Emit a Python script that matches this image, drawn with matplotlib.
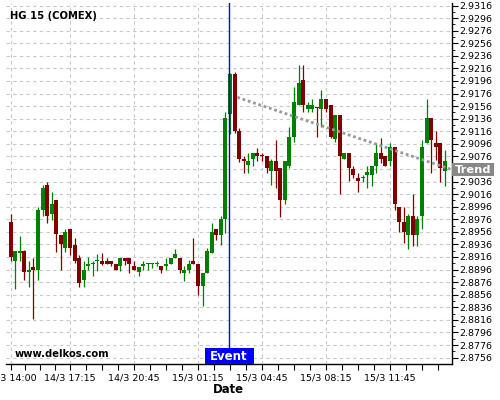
import matplotlib
matplotlib.use('Agg')
import matplotlib.pyplot as plt
from matplotlib.patches import Rectangle

# ---------------- data (15 min candles, HG COMEX) ----------------
opens = [2.8971, 2.8910, 2.8922, 2.8926, 2.8892, 2.8900, 2.8896, 2.8991, 2.9030, 2.8985,
         2.9007, 2.8951, 2.8931, 2.8960, 2.8935, 2.8915, 2.8879, 2.8901, 2.8905, 2.8910,
         2.8910, 2.8910, 2.8910, 2.8905, 2.8901, 2.8915, 2.8915, 2.8901, 2.8892, 2.8901,
         2.8905, 2.8905, 2.8905, 2.8901, 2.8901, 2.8905, 2.8915, 2.8915, 2.8891, 2.8895,
         2.8910, 2.8905, 2.8870, 2.8891, 2.8922, 2.8960, 2.8951, 2.8976, 2.9143, 2.9207,
         2.9117, 2.9072, 2.9062, 2.9072, 2.9081, 2.9079, 2.9077, 2.9052, 2.9068, 2.9057,
         2.9007, 2.9061, 2.9107, 2.9158, 2.9197, 2.9151, 2.9151, 2.9155, 2.9151, 2.9167,
         2.9158, 2.9104, 2.9142, 2.9072, 2.9082, 2.9056, 2.9042, 2.9042, 2.9046, 2.9046,
         2.9061, 2.9082, 2.9077, 2.9068, 2.9091, 2.8996, 2.8971, 2.8951, 2.8981, 2.8951,
         2.8981, 2.9098, 2.9137, 2.9098, 2.9098, 2.9052]
highs = [2.8985, 2.8926, 2.8950, 2.8927, 2.8910, 2.8915, 2.8995, 2.9030, 2.9036, 2.9020,
         2.9007, 2.8951, 2.8960, 2.8960, 2.8946, 2.8919, 2.8910, 2.8916, 2.8909, 2.8920,
         2.8922, 2.8915, 2.8910, 2.8905, 2.8915, 2.8915, 2.8915, 2.8909, 2.8900, 2.8909,
         2.8906, 2.8906, 2.8909, 2.8901, 2.8915, 2.8915, 2.8929, 2.8915, 2.8901, 2.8911,
         2.8946, 2.8905, 2.8891, 2.8930, 2.8970, 2.8960, 2.8982, 2.9146, 2.9208, 2.9211,
         2.9121, 2.9077, 2.9081, 2.9081, 2.9090, 2.9081, 2.9077, 2.9072, 2.9102, 2.9057,
         2.9068, 2.9122, 2.9187, 2.9222, 2.9222, 2.9163, 2.9168, 2.9155, 2.9181, 2.9167,
         2.9158, 2.9142, 2.9142, 2.9082, 2.9082, 2.9061, 2.9050, 2.9046, 2.9061, 2.9061,
         2.9097, 2.9106, 2.9077, 2.9097, 2.9091, 2.8996, 2.8995, 2.8985, 2.9016, 2.8981,
         2.9102, 2.9167, 2.9137, 2.9117, 2.9098, 2.9086]
lows = [2.8910, 2.8865, 2.8910, 2.8879, 2.8869, 2.8818, 2.8879, 2.8982, 2.8970, 2.8975,
        2.8924, 2.8895, 2.8924, 2.8919, 2.8906, 2.8869, 2.8869, 2.8895, 2.8885, 2.8894,
        2.8903, 2.8905, 2.8901, 2.8895, 2.8893, 2.8903, 2.8890, 2.8895, 2.8885, 2.8895,
        2.8895, 2.8898, 2.8901, 2.8890, 2.8895, 2.8905, 2.8915, 2.8890, 2.8878, 2.8890,
        2.8905, 2.8856, 2.8838, 2.8891, 2.8922, 2.8943, 2.8935, 2.8954, 2.9112, 2.9113,
        2.9067, 2.9050, 2.9050, 2.9060, 2.9068, 2.9068, 2.9050, 2.9030, 2.9025, 2.8980,
        2.9000, 2.9057, 2.9099, 2.9158, 2.9146, 2.9146, 2.9146, 2.9107, 2.9123, 2.9147,
        2.9105, 2.9099, 2.9016, 2.9072, 2.9037, 2.9041, 2.9020, 2.9036, 2.9025, 2.9029,
        2.9050, 2.9066, 2.9060, 2.9060, 2.8991, 2.8955, 2.8939, 2.8928, 2.8933, 2.8933,
        2.8960, 2.9098, 2.9050, 2.9071, 2.9036, 2.9029]
closes = [2.8916, 2.8926, 2.8926, 2.8892, 2.8895, 2.8896, 2.8991, 2.9026, 2.8982, 2.9000,
          2.8952, 2.8936, 2.8956, 2.8931, 2.8910, 2.8875, 2.8895, 2.8905, 2.8907, 2.8911,
          2.8905, 2.8905, 2.8905, 2.8896, 2.8915, 2.8910, 2.8905, 2.8896, 2.8900, 2.8905,
          2.8906, 2.8906, 2.8906, 2.8895, 2.8905, 2.8915, 2.8921, 2.8895, 2.8895, 2.8905,
          2.8905, 2.8870, 2.8891, 2.8926, 2.8956, 2.8951, 2.8976, 2.9137, 2.9207, 2.9117,
          2.9072, 2.9068, 2.9068, 2.9081, 2.9077, 2.9077, 2.9057, 2.9068, 2.9052, 2.9007,
          2.9068, 2.9107, 2.9163, 2.9193, 2.9158, 2.9158, 2.9158, 2.9153, 2.9167, 2.9151,
          2.9107, 2.9142, 2.9077, 2.9082, 2.9057, 2.9046, 2.9037, 2.9044, 2.9051, 2.9061,
          2.9082, 2.9072, 2.9061, 2.9091, 2.9000, 2.8971, 2.8956, 2.8981, 2.8951, 2.8976,
          2.9091, 2.9137, 2.9102, 2.9091, 2.9057, 2.9068]

tick_pos = [0, 13, 27, 41, 55, 69, 83]
tick_labels = ['14/3 14:00', '14/3 17:15', '14/3 20:45', '15/3 01:15',
               '15/3 04:45', '15/3 08:15', '15/3 11:45']
price_ticks = [2.8756 + 0.002 * k for k in range(29)]

event_idx = 47.8
trend_x = [49.6, 96.5]
trend_y = [2.9170, 2.9055]

title = 'HG 15 (COMEX)'
green = '#008000'
red = '#800000'

# ---------------- figure ----------------
fig = plt.figure(figsize=(5, 4), dpi=100)
ax = fig.add_axes([0.012, 0.09, 0.8914, 0.9025])

for i in range(len(opens)):
    o, h, l, c = opens[i], highs[i], lows[i], closes[i]
    col = green if c >= o else red
    ax.vlines(i, l, h, color=col, linewidth=0.9, zorder=3)
    body = max(abs(c - o), 0.00012)
    ax.bar(i, body, bottom=min(o, c), width=0.88, color=col, linewidth=0, zorder=4)

# trend line
ax.plot(trend_x, trend_y, color='#999999', linestyle=(0, (1, 1)), linewidth=2, zorder=5)

# event line
ax.axvline(event_idx, color='#0000ff', linewidth=1.0, zorder=6)

ax.set_xlim(-1, 96.5)
ax.set_ylim(2.87458, 2.9320)

ax.set_xticks(tick_pos)
ax.set_xticklabels(tick_labels)
minor = []
bounds = tick_pos + [tick_pos[-1] + 14]
for a, b in zip(bounds[:-1], bounds[1:]):
    step = (b - a) / 4.0
    minor += [a + step, a + 2 * step, a + 3 * step]
ax.set_xticks([m for m in minor if m < 96.5], minor=True)

ax.yaxis.tick_right()
ax.set_yticks(price_ticks)
ax.set_yticklabels(['%.4f' % p for p in price_ticks])
ax.set_yticks([p + 0.001 for p in price_ticks[:-1]], minor=True)

ax.tick_params(axis='x', which='both', length=4, width=0.8, labelsize=6.8, pad=2.5)
ax.tick_params(axis='y', which='major', length=4, width=0.8, labelsize=6.8, pad=1.5)
ax.tick_params(axis='y', which='minor', length=2, width=0.6)

for s in ['left', 'top']:
    ax.spines[s].set_visible(False)
for s in ['right', 'bottom']:
    ax.spines[s].set_linewidth(1.0)

ax.grid(True, which='major', color='#c8c8c8', linestyle=(0, (3, 3)), linewidth=0.8)
ax.set_axisbelow(True)

ax.set_xlabel('Date', fontsize=8.4, fontweight='bold', labelpad=1)

ax.text(0.009, 0.965, title, transform=ax.transAxes, fontsize=7.2,
        fontweight='bold', ha='left', va='center')
ax.text(0.02, 0.028, 'www.delkos.com', transform=ax.transAxes, fontsize=7.2,
        fontweight='bold', ha='left', va='center', zorder=7)

# Event label at bottom of event line
xt = ax.get_xaxis_transform()
ax.add_patch(Rectangle((event_idx - 5.35, 0), 10.7, 0.044, transform=xt,
                       facecolor='#0000ff', edgecolor='none', zorder=8, clip_on=False))
ax.text(event_idx, 0.022, 'Event', transform=xt, color='white', fontsize=8.5,
        fontweight='bold', ha='center', va='center', zorder=9)

# Trend label on right of axes, covering the tick label behind it
yt = ax.get_yaxis_transform()
ax.add_patch(Rectangle((1.0, trend_y[1] - 0.00106), 0.095, 0.00212, transform=yt,
                       facecolor='#888888', edgecolor='none', zorder=8, clip_on=False))
ax.text(1.0475, trend_y[1], 'Trend', transform=yt, color='white', fontsize=8.2,
        fontweight='bold', ha='center', va='center', zorder=9, clip_on=False)

fig.savefig('out.png', dpi=100)
